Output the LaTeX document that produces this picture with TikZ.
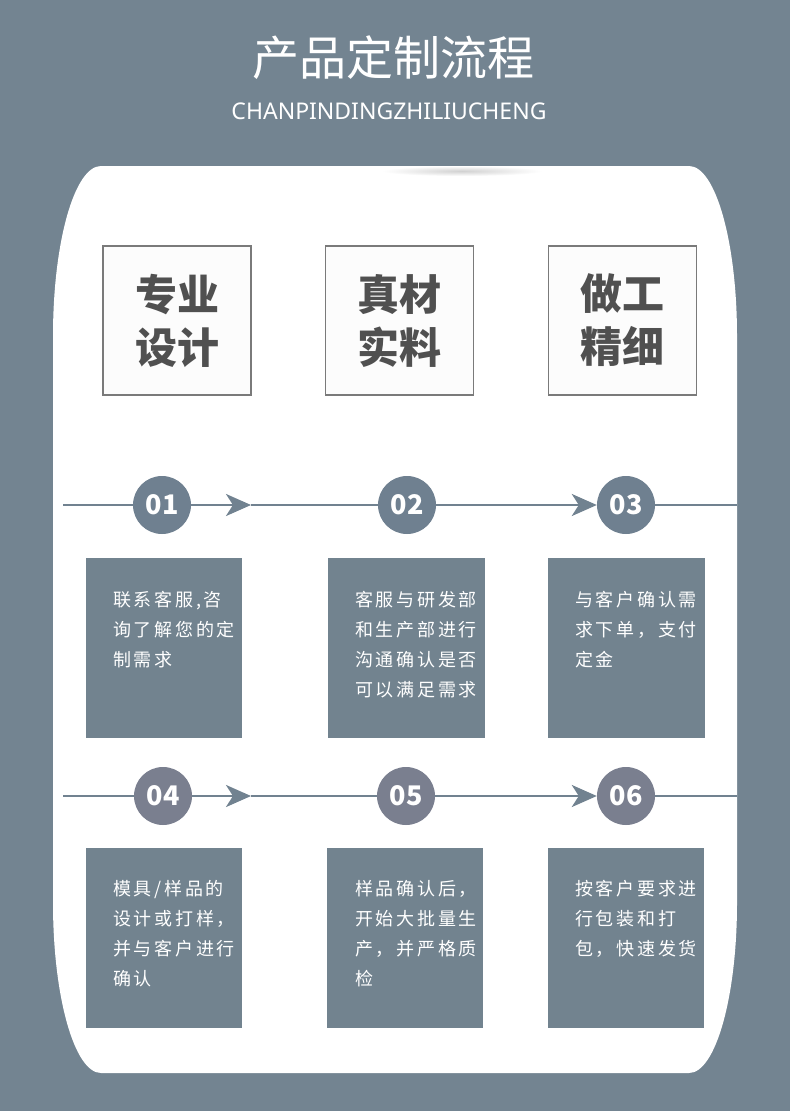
\documentclass[tikz,border=0pt]{standalone}
\usepackage{fontspec}
\setmainfont{Noto Sans}
\newfontfamily\cjk{Noto Sans CJK SC}
\newfontfamily\cjksp{Noto Sans CJK SC}[LetterSpace=15]
\usetikzlibrary{arrows.meta}
\definecolor{bg}{HTML}{738491}
\definecolor{boxfill}{HTML}{72838F}
\definecolor{circA}{HTML}{6F8090}
\definecolor{circB}{HTML}{7A7F8F}
\definecolor{flowc}{HTML}{718290}
\definecolor{boxline}{HTML}{7A7A7A}
\definecolor{topfill}{HTML}{FCFCFC}
\definecolor{toptext}{HTML}{505050}
\begin{document}
\begin{tikzpicture}[x=1pt,y=-1pt,
  topbox/.style={draw=boxline,line width=1.5pt,fill=topfill,minimum width=148pt,minimum height=149pt,inner sep=0pt,text=toptext,font=\cjk\bfseries\fontsize{42}{53}\selectfont,align=center},
  stepcirc/.style={circle,minimum size=58pt,inner sep=0pt,text=white,font=\cjk\bfseries\fontsize{27}{27}\selectfont},
  infobox/.style={fill=boxfill,minimum height=180pt,inner sep=0pt},
  infotext/.style={anchor=north west,inner sep=0pt,text=white,align=left,font=\cjksp\fontsize{18}{30}\selectfont},
  flow/.style={draw=flowc,line width=2.5pt},
  flowarr/.style={flow,-{Stealth[length=25pt,width=22pt,inset=7pt]}}
]
\fill[bg] (0,0) rectangle (790,1111);
\useasboundingbox (0,0) rectangle (790,1111);
% white panel
\fill[white] (101,166) -- (689,166)
  .. controls (715.5,166) and (737,242) .. (737,336)
  -- (737,903)
  .. controls (737,997) and (715.5,1073) .. (689,1073)
  -- (101,1073)
  .. controls (74.5,1073) and (53,997) .. (53,903)
  -- (53,336)
  .. controls (53,242) and (74.5,166) .. (101,166) -- cycle;
\shade[inner color=black!18,outer color=white] (462,171) ellipse [x radius=80, y radius=5];
% title
\node[text=white,font=\cjk\fontsize{47}{47}\selectfont,inner sep=0pt] (title) at (393,58) {产品定制流程};
\node[text=white,font=\fontsize{23}{23}\selectfont,inner sep=0pt] (subtitle) at (389,111) {CHANPINDINGZHILIUCHENG};
% top boxes
\node[topbox] (t1) at (177,320.5) {专业\\设计};
\node[topbox] (t2) at (399.5,320.5) {真材\\实料};
\node[topbox] (t3) at (622.5,320.5) {做工\\精细};
% row 1
\coordinate (l1) at (63,505);
\coordinate (r1) at (737,505);
\coordinate (a1) at (251,505);
\node[stepcirc,fill=circA] (c1) at (162,505) {01};
\node[stepcirc,fill=circA] (c2) at (407,505) {02};
\node[stepcirc,fill=circA] (c3) at (626,505) {03};
\draw[flow] (l1) -- (c1.west);
\draw[flowarr] (c1.east) -- (a1);
\draw[flow] (a1) -- (c2.west);
\draw[flowarr] (c2.east) -- (c3.west);
\draw[flow] (c3.east) -- (r1);
% row 2
\coordinate (l2) at (63,796);
\coordinate (r2) at (737,796);
\coordinate (a2) at (251,796);
\node[stepcirc,fill=circB] (c4) at (163,796) {04};
\node[stepcirc,fill=circB] (c5) at (406,796) {05};
\node[stepcirc,fill=circB] (c6) at (626,796) {06};
\draw[flow] (l2) -- (c4.west);
\draw[flowarr] (c4.east) -- (a2);
\draw[flow] (a2) -- (c5.west);
\draw[flowarr] (c5.east) -- (c6.west);
\draw[flow] (c6.east) -- (r2);
% info boxes
\node[infobox,minimum width=156pt] (b1) at (164,648) {};
\node[infobox,minimum width=157pt] (b2) at (406.5,648) {};
\node[infobox,minimum width=157pt] (b3) at (626.5,648) {};
\node[infobox,minimum width=156pt] (b4) at (164,938) {};
\node[infobox,minimum width=156pt] (b5) at (405,938) {};
\node[infobox,minimum width=156pt] (b6) at (626,938) {};
\node[infotext] (x1) at (113,591) {联系客服,咨\\询了解您的定\\制需求};
\node[infotext] (x2) at (355,591) {客服与研发部\\和生产部进行\\沟通确认是否\\可以满足需求};
\node[infotext] (x3) at (575,591) {与客户确认需\\求下单，支付\\定金};
\node[infotext] (x4) at (113,880) {模具/样品的\\设计或打样，\\并与客户进行\\确认};
\node[infotext] (x5) at (355,880) {样品确认后，\\开始大批量生\\产，并严格质\\检};
\node[infotext] (x6) at (575,880) {按客户要求进\\行包装和打\\包，快速发货};
\end{tikzpicture}
\end{document}
